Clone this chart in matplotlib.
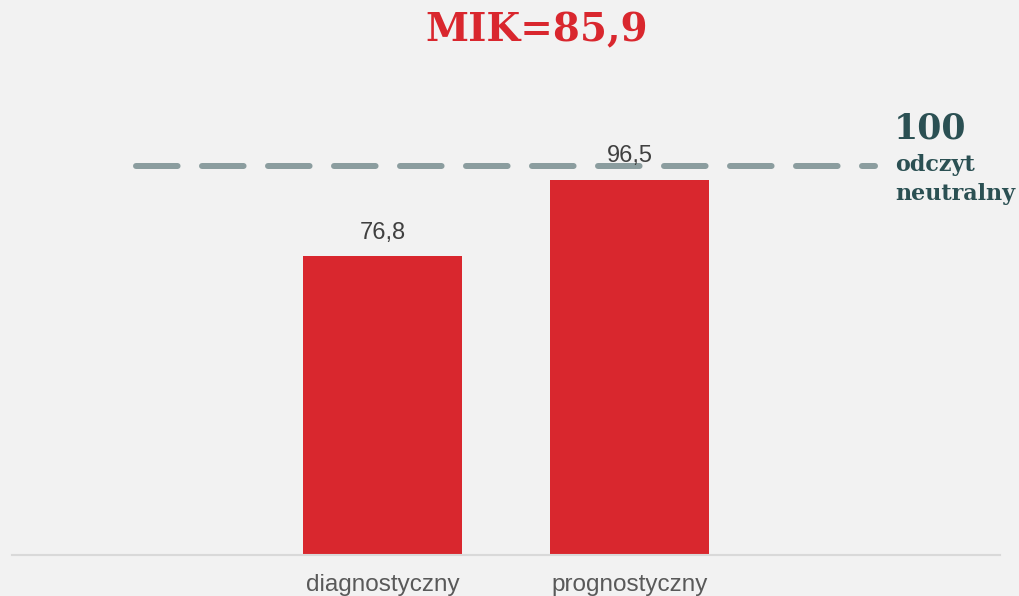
import matplotlib
matplotlib.use("Agg")
import matplotlib.pyplot as plt

categories = ["", "diagnostyczny", "prognostyczny", ""]
values = [0, 76.8, 96.5, 0]
labels = ["", "76,8", "96,5", ""]
neutral = 100
title = "MIK=85,9"

bg = "#f2f2f2"
red = "#d9272e"
teal = "#2b5053"

fig = plt.figure(figsize=(10.19, 5.96), dpi=100, facecolor=bg)
ax = fig.add_axes([12/1019, 41/596, 988/1019, 555/596], facecolor=bg)
x = list(range(len(categories)))
idx = [i for i, c in enumerate(categories) if c]
ax.bar([x[i] for i in idx], [values[i] for i in idx], width=0.64, color=red, zorder=2)
for i in idx:
    ax.text(x[i], values[i] + 3.2, labels[i], ha="center", va="bottom",
            fontsize=17, color="#404040", family="Liberation Sans", zorder=4)
ax.plot([0, 2.995], [neutral, neutral], color="#8b9d9f", lw=4.32,
        linestyle=(0, (6.93, 4.07)), dash_capstyle="round", zorder=3)
ax.set_xlim(-0.5, 3.5)
ax.set_ylim(0, 555/3.89)
ax.set_xticks(idx)
ax.set_xticklabels([categories[i] for i in idx], fontsize=17.5, color="#595959",
                   family="Liberation Sans")
ax.tick_params(axis="x", length=0, pad=14)
ax.set_yticks([])
for s in ["top", "left", "right"]:
    ax.spines[s].set_visible(False)
ax.spines["bottom"].set_color("#d9d9d9")
ax.spines["bottom"].set_linewidth(1.5)

fig.text(537/1019, 1 - 30/596, title, ha="center", va="center", fontsize=28,
         fontweight="bold", color=red, family="DejaVu Serif")
fig.text(894/1019, 1 - 129/596, "100", ha="left", va="center", fontsize=25,
         fontweight="bold", color=teal, family="DejaVu Serif")
fig.text(895/1019, 1 - 165/596, "odczyt", ha="left", va="center", fontsize=16,
         fontweight="bold", color=teal, family="DejaVu Serif")
fig.text(895/1019, 1 - 194/596, "neutralny", ha="left", va="center", fontsize=16,
         fontweight="bold", color=teal, family="DejaVu Serif")

fig.savefig("out.png", dpi=100, facecolor=bg)
